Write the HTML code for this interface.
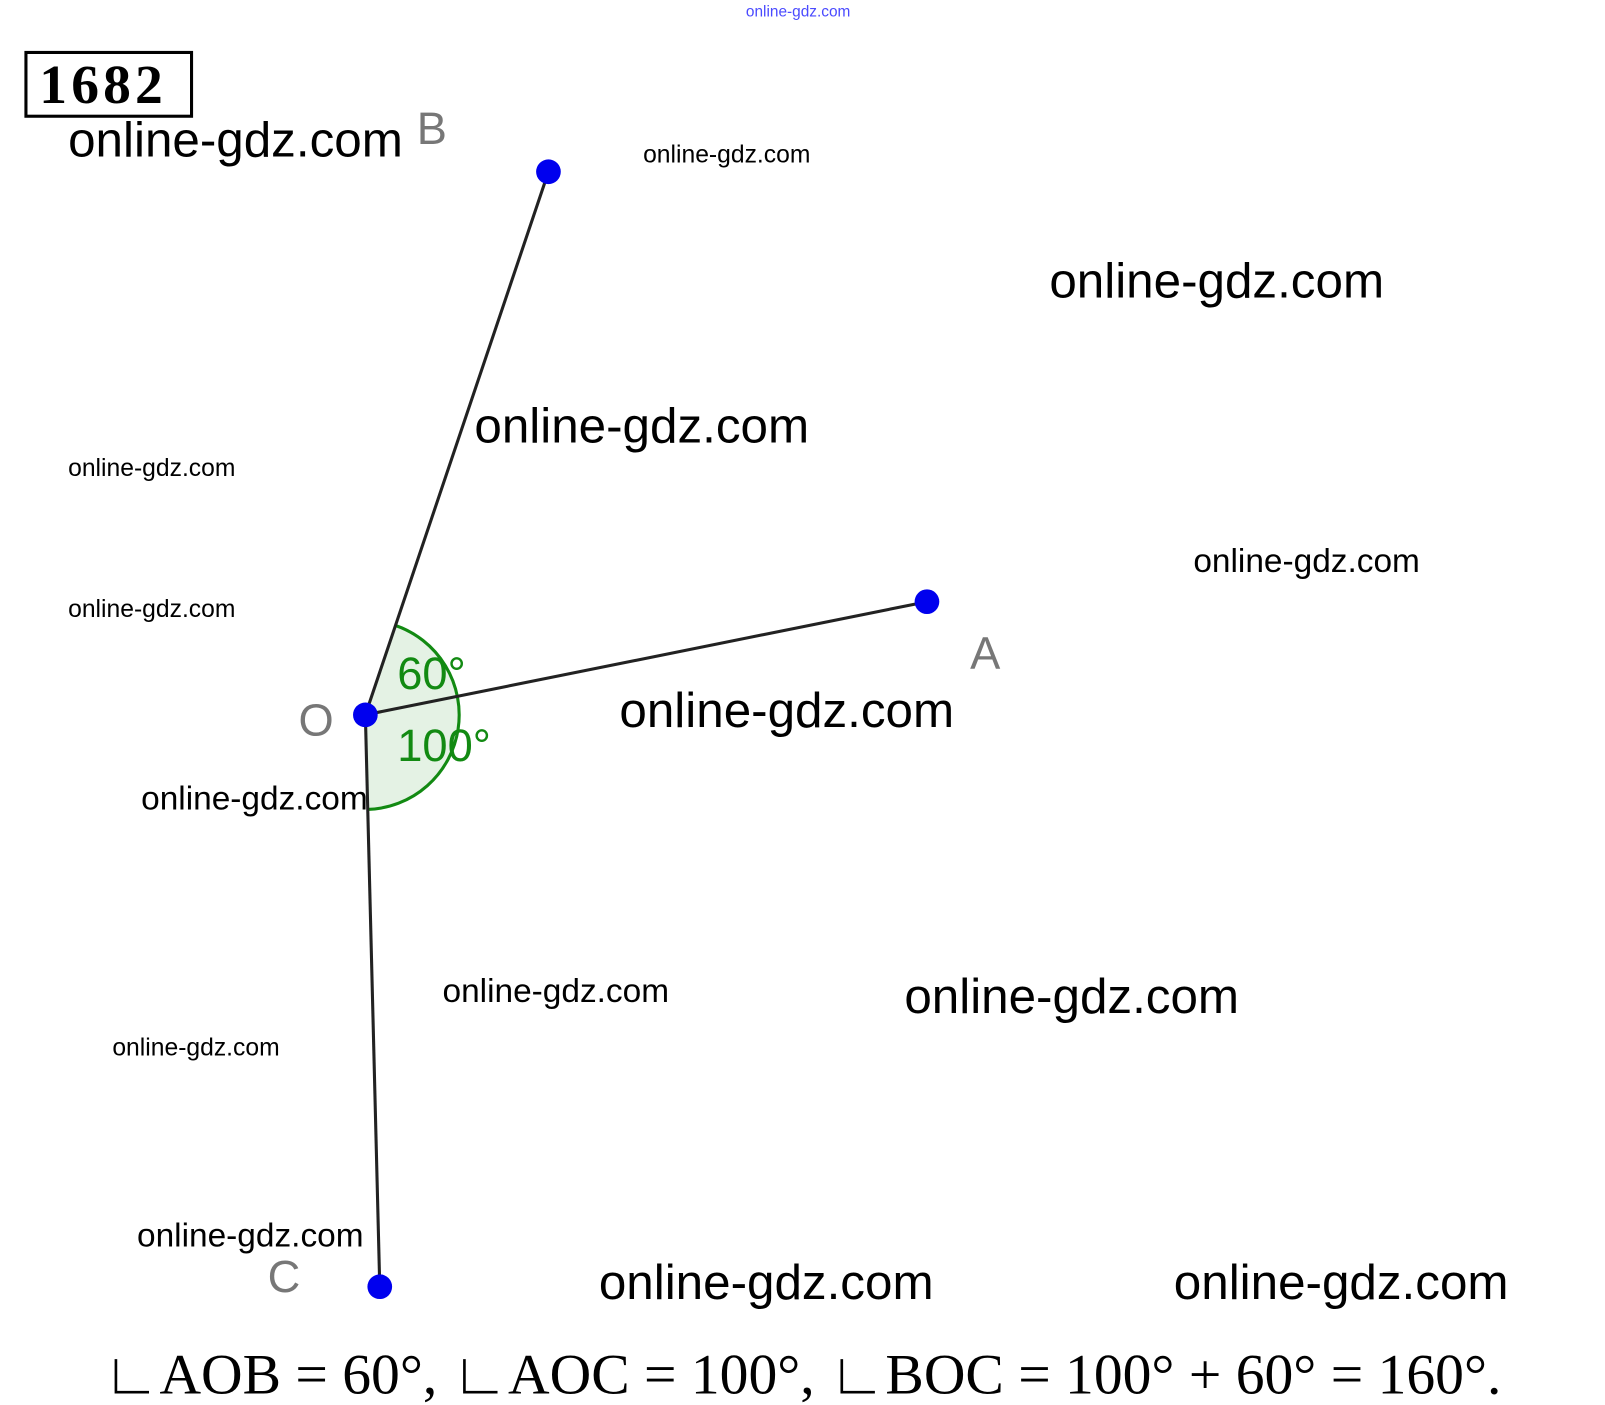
<!DOCTYPE html>
<html><head><meta charset="utf-8"><style>
html,body{margin:0;padding:0;background:#fff;width:1605px;height:1405px;overflow:hidden}
svg{display:block}
.w{font-family:"Liberation Sans",sans-serif;fill:#000}
</style></head><body>
<svg width="1605" height="1405" viewBox="0 0 1560 1366" xmlns="http://www.w3.org/2000/svg">
<text x="725" y="16" font-family="Liberation Sans,sans-serif" font-size="15" fill="#4a4aff">online-gdz.com</text>
<rect x="25" y="51" width="161" height="62" fill="none" stroke="#000" stroke-width="3"/>
<text x="38" y="100" font-family="Liberation Serif,serif" font-weight="bold" font-size="54" letter-spacing="4" fill="#000">1682</text>
<path d="M355,695 L384,608 A92,92 0 0 1 357,787 Z" fill="#e4f2e4"/>
<path d="M384,608 A92,92 0 0 1 357,787" fill="none" stroke="#128a12" stroke-width="3"/>
<line x1="355" y1="695" x2="533" y2="167" stroke="#222" stroke-width="3"/>
<line x1="355" y1="695" x2="901" y2="585" stroke="#222" stroke-width="3"/>
<line x1="355" y1="695" x2="369" y2="1251" stroke="#222" stroke-width="3"/>
<circle cx="533" cy="167" r="12" fill="#0000ee"/>
<circle cx="901" cy="585" r="12" fill="#0000ee"/>
<circle cx="355" cy="695" r="12" fill="#0000ee"/>
<circle cx="369" cy="1251" r="12" fill="#0000ee"/>
<g font-family="Liberation Sans,sans-serif" font-size="44" fill="#777">
<text x="405" y="140">B</text><text x="943" y="650">A</text><text x="290" y="715">O</text><text x="260" y="1256">C</text>
</g>
<g font-family="Liberation Sans,sans-serif" font-size="44" fill="#128a12">
<text x="386" y="670">60°</text><text x="386" y="740">100°</text>
</g>
<g class="w" font-size="48">
<text x="66" y="152">online-gdz.com</text>
<text x="1020" y="289">online-gdz.com</text>
<text x="461" y="430">online-gdz.com</text>
<text x="602" y="707">online-gdz.com</text>
<text x="879" y="985">online-gdz.com</text>
<text x="582" y="1263">online-gdz.com</text>
<text x="1141" y="1263">online-gdz.com</text>
</g>
<g class="w" font-size="32.5">
<text x="1160" y="556">online-gdz.com</text>
<text x="137" y="787">online-gdz.com</text>
<text x="430" y="974">online-gdz.com</text>
<text x="133" y="1212">online-gdz.com</text>
</g>
<g class="w" font-size="24">
<text x="625" y="158">online-gdz.com</text>
<text x="66" y="463">online-gdz.com</text>
<text x="66" y="600">online-gdz.com</text>
<text x="109" y="1026">online-gdz.com</text>
</g>
<text x="100" y="1355" font-family="Liberation Serif,serif" font-size="56" fill="#000">∟AOB = 60°, ∟AOC = 100°, ∟BOC = 100° + 60° = 160°.</text>
</svg>
</body></html>
